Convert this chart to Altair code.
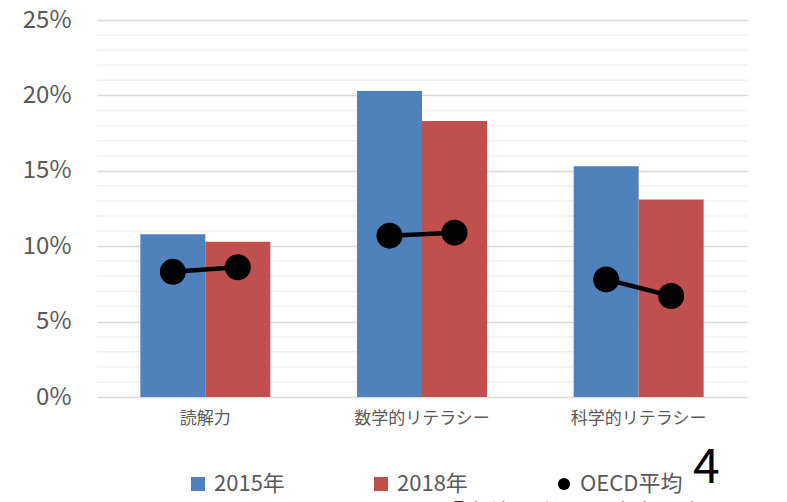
import altair as alt
import pandas as pd

categories = ["読解力", "数学的リテラシー", "科学的リテラシー"]
years = ["2015年", "2018年"]
japan_2015 = [0.108, 0.203, 0.153]
japan_2018 = [0.103, 0.183, 0.131]
oecd_2015 = [0.083, 0.107, 0.078]
oecd_2018 = [0.086, 0.109, 0.067]
legend_labels = ["2015年", "2018年", "OECD平均"]
colors = ["#4F81BD", "#C0504D", "#000000"]
major_ticks = [0, 0.05, 0.10, 0.15, 0.20, 0.25]
minor_ticks = [i / 100 for i in range(26) if i % 5 != 0]

rows = []
for i, c in enumerate(categories):
    rows.append({"cat": c, "year": years[0], "japan": japan_2015[i], "oecd": oecd_2015[i]})
    rows.append({"cat": c, "year": years[1], "japan": japan_2018[i], "oecd": oecd_2018[i]})
df = pd.DataFrame(rows)

FONT = "Noto Sans CJK JP"

x_enc = alt.X("cat:N", sort=categories, title=None,
              scale=alt.Scale(paddingInner=0, paddingOuter=0),
              axis=alt.Axis(labelAngle=0, labelFontSize=17, labelColor="#595959",
                            labelFont=FONT, domain=False, ticks=False, labelPadding=13))
xoff_enc = alt.XOffset("year:N", sort=years,
                       scale=alt.Scale(paddingInner=0, paddingOuter=0.667))

y_scale = alt.Scale(domain=[0, 0.25], nice=False)
y_axis = alt.Axis(values=major_ticks, format=".0%",
                  labelFontSize=24, labelColor="#595959", labelFont=FONT,
                  labelPadding=26, domain=False, ticks=False,
                  gridColor="#D9D9D9", gridWidth=1.5)

minor_grid = alt.Chart(pd.DataFrame({"v": minor_ticks})).mark_rule(
    color="#F0F0F0", strokeWidth=1.5
).encode(y=alt.Y("v:Q", title=None, scale=y_scale, axis=y_axis))

base = alt.Chart(df)

bars = base.mark_bar().encode(
    x=x_enc,
    xOffset=xoff_enc,
    y=alt.Y("japan:Q", title=None, scale=y_scale, axis=y_axis),
    color=alt.Color("year:N",
                    scale=alt.Scale(domain=legend_labels, range=colors),
                    legend=alt.Legend(title=None, orient="none", direction="horizontal",
                                      legendX=90, legendY=453,
                                      labelFontSize=22, labelColor="#595959", labelFont=FONT,
                                      labelOffset=5, columnPadding=85,
                                      symbolSize={"expr": "datum.value === 'OECD平均' ? 150 : 196"},
                                      symbolType={"expr": "datum.value === 'OECD平均' ? 'circle' : 'square'"},
                                      symbolStrokeWidth=0)),
)

line = base.mark_line(color="black", strokeWidth=4.5).encode(
    x=x_enc,
    xOffset=xoff_enc,
    y=alt.Y("oecd:Q"),
    detail="cat:N",
    order=alt.Order("year:N"),
)

points = base.mark_point(filled=True, color="black", size=676, opacity=1).encode(
    x=x_enc,
    xOffset=xoff_enc,
    y=alt.Y("oecd:Q"),
)

page_num = alt.Chart(pd.DataFrame({"t": ["4"]})).mark_text(
    font=FONT, fontSize=48, color="black", align="left", baseline="alphabetic"
).encode(text="t:N", x=alt.value(596), y=alt.value(463))

source = alt.Chart(pd.DataFrame({"t": ["『生徒の学習到達度調査（PISA2018）』"]})).mark_text(
    font=FONT, fontSize=24, color="#000000", align="left", baseline="top"
).encode(text="t:N", x=alt.value(343), y=alt.value(483))

chart = alt.layer(minor_grid, bars, line, points, page_num, source).properties(
    width=650, height=377,
    padding={"left": 97, "top": 20, "right": 40, "bottom": 105},
    autosize=alt.AutoSizeParams(type="none"),
).configure_view(stroke=None)

chart.save("out.html", embed_options={"renderer": "svg", "actions": False})
